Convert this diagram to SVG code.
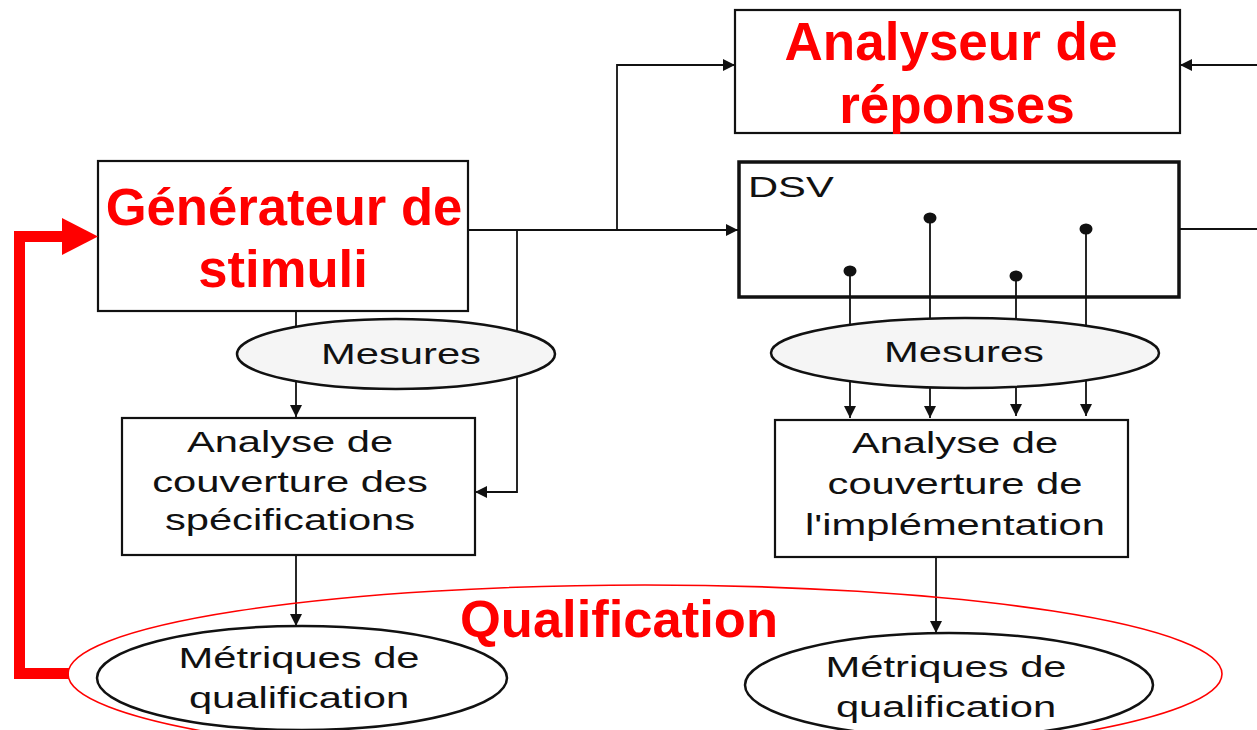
<svg xmlns="http://www.w3.org/2000/svg" width="1257" height="730" viewBox="0 0 1257 730">
<style>
.box{fill:#fff;stroke:#111;stroke-width:2.2}
.dsv{fill:#fff;stroke:#111;stroke-width:3.5}
.ell{fill:#f5f5f5;stroke:#111;stroke-width:2.5}
.ellw{fill:#fff;stroke:#111;stroke-width:2.5}
.ln{fill:none;stroke:#111;stroke-width:1.8}
.red{font-family:"Liberation Sans",Arial,sans-serif;font-weight:bold;fill:#ff0000;text-anchor:middle}
.blk{font-family:"Liberation Sans",Arial,sans-serif;font-size:30px;fill:#111;text-anchor:middle}
</style>
<defs>
<marker id="ah" viewBox="0 0 12 12" refX="12" refY="6" markerWidth="12" markerHeight="12" markerUnits="userSpaceOnUse" orient="auto">
<path d="M0,0 L12,6 L0,12 z" fill="#111"/>
</marker>
</defs>
<rect width="1257" height="730" fill="#fff"/>

<g id="connectors">
<path class="ln" d="M468,230 H738" marker-end="url(#ah)"/>
<path class="ln" d="M617,230 V65 H735" marker-end="url(#ah)"/>
<path class="ln" d="M1257,65 H1180" marker-end="url(#ah)"/>
<path class="ln" d="M1180,229 H1257"/>
<path class="ln" d="M517,230 V492 H475" marker-end="url(#ah)"/>
<path class="ln" d="M296,311 V417" marker-end="url(#ah)"/>
<path class="ln" d="M296,555 V626" marker-end="url(#ah)"/>
<path class="ln" d="M850,271 V418" marker-end="url(#ah)"/>
<path class="ln" d="M930,218 V418" marker-end="url(#ah)"/>
<path class="ln" d="M1016,276 V416" marker-end="url(#ah)"/>
<path class="ln" d="M1086,229 V416" marker-end="url(#ah)"/>
<path class="ln" d="M936,557 V633" marker-end="url(#ah)"/>
</g>

<g id="generateur">
<rect class="box" x="98" y="161" width="370" height="150"/>
<text class="red" font-size="52.6" x="284" y="225">Générateur de</text>
<text class="red" font-size="52.6" x="283" y="287">stimuli</text>
</g>

<g id="analyseur">
<rect class="box" x="735" y="10" width="445" height="123"/>
<text class="red" font-size="53" x="951" y="60">Analyseur de</text>
<text class="red" font-size="53" x="957" y="123">réponses</text>
</g>

<g id="dsv">
<rect class="dsv" x="739" y="162" width="440" height="135"/>
<text class="blk" transform="translate(748,197) scale(1.39,1)" style="text-anchor:start">DSV</text>
<path class="ln" d="M850,271 V296 M930,218 V296 M1016,276 V296 M1086,229 V296"/>
<g fill="#111">
<ellipse cx="850" cy="271" rx="6.5" ry="5.5"/>
<ellipse cx="930" cy="218" rx="6.5" ry="5.5"/>
<ellipse cx="1016" cy="276" rx="6.5" ry="5.5"/>
<ellipse cx="1086" cy="229" rx="6.5" ry="5.5"/>
</g>
</g>

<g id="mesures-gauche">
<ellipse class="ell" cx="396" cy="354" rx="159" ry="35"/>
<text class="blk" transform="translate(401,364) scale(1.39,1)">Mesures</text>
</g>

<g id="mesures-droite">
<ellipse class="ell" cx="965" cy="353" rx="194" ry="35"/>
<text class="blk" transform="translate(964,362) scale(1.39,1)">Mesures</text>
</g>

<g id="analyse-specifications">
<rect class="box" x="122" y="418" width="353" height="137"/>
<text class="blk" transform="translate(290,452) scale(1.39,1)">Analyse de</text>
<text class="blk" transform="translate(290,492) scale(1.39,1)">couverture des</text>
<text class="blk" transform="translate(290,530) scale(1.39,1)">spécifications</text>
</g>

<g id="analyse-implementation">
<rect class="box" x="775" y="420" width="353" height="137"/>
<text class="blk" transform="translate(955,453) scale(1.39,1)">Analyse de</text>
<text class="blk" transform="translate(955,494) scale(1.39,1)">couverture de</text>
<text class="blk" transform="translate(955,535) scale(1.39,1)">l'implémentation</text>
</g>

<g id="metriques-gauche">
<ellipse class="ellw" cx="302" cy="678" rx="205" ry="52"/>
<text class="blk" transform="translate(299,668) scale(1.39,1)">Métriques de</text>
<text class="blk" transform="translate(299,708) scale(1.39,1)">qualification</text>
</g>

<g id="metriques-droite">
<ellipse class="ellw" cx="949" cy="685" rx="204" ry="52"/>
<text class="blk" transform="translate(946,677) scale(1.39,1)">Métriques de</text>
<text class="blk" transform="translate(946,717) scale(1.39,1)">qualification</text>
</g>

<g id="qualification">
<ellipse cx="645" cy="674" rx="577" ry="89" fill="none" stroke="#ff0000" stroke-width="1.6"/>
<text class="red" font-size="52.5" x="619" y="637">Qualification</text>
</g>

<g id="retour">
<path d="M69,673.5 H19.5 V236.5 H64" fill="none" stroke="#ff0000" stroke-width="11"/>
<polygon points="62,218 98,236.5 62,255" fill="#ff0000"/>
</g>
</svg>
